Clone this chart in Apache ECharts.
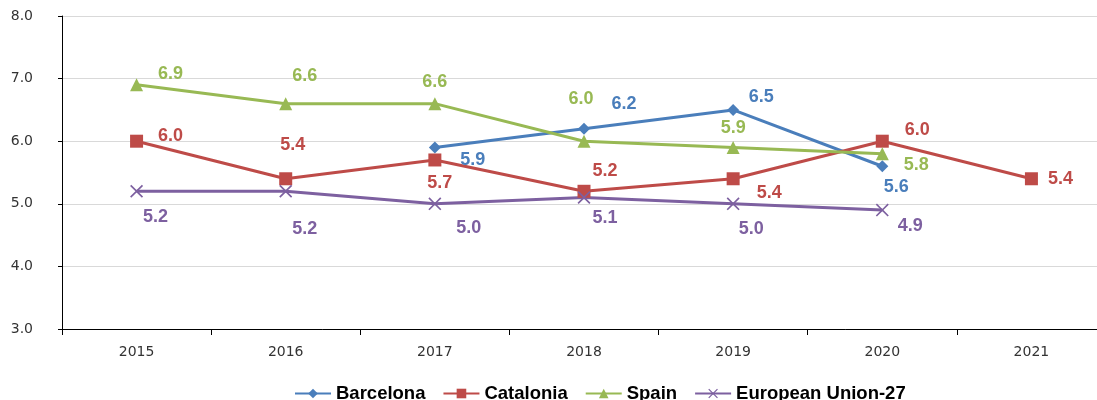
<!DOCTYPE html>
<html>
<head>
<meta charset="utf-8">
<script src="https://cdn.jsdelivr.net/npm/echarts@6/dist/echarts.min.js"></script>
<style>
html,body{margin:0;padding:0;background:#fff;overflow:hidden;width:1097px;height:400px;}
#chart{width:1110px;height:400px;}
</style>
</head>
<body>
<div id="chart"></div>
<script>
var categories = ['2015','2016','2017','2018','2019','2020','2021'];
var barcelona = [null, null, 5.9, 6.2, 6.5, 5.6, null];
var catalonia = [6.0, 5.4, 5.7, 5.2, 5.4, 6.0, 5.4];
var spain = [6.9, 6.6, 6.6, 6.0, 5.9, 5.8, null];
var eu27 = [5.2, 5.2, 5.0, 5.1, 5.0, 4.9, null];
var yTicks = [3, 4, 5, 6, 7, 8];

// label offsets (style only)
var offBarcelona = [null, null, [38,13], [40,-25], [28,-13], [14,21], null];
var offCatalonia = [[34,-5], [7,-34], [5,23], [21,-20], [36,14], [35,-11], [29,0]];
var offSpain = [[34,-11], [19,-28], [0,-22], [-3,-42], [0,-19], [34,11], null];
var offEu = [[19,26], [19,38], [34,24], [21,20], [18,25], [28,16], null];

var colors = {b:'#4A7EBB', c:'#BE4B48', s:'#98B954', e:'#7D60A0'};
var xPath = 'path://M0,0.9L0.9,0L5,4.1L9.1,0L10,0.9L5.9,5L10,9.1L9.1,10L5,5.9L0.9,10L0,9.1L4.1,5Z';
var FONT = 'Liberation Sans, Arial, sans-serif';
var AXFONT = 'DejaVu Sans, sans-serif';

function mk(vals, offs, color) {
  return vals.map(function(v, i){
    if (v === null) return null;
    return {value: v, label: {show: true, position: 'inside', offset: offs[i], color: color,
      fontWeight: 'bold', fontSize: 18, fontFamily: FONT,
      formatter: function(p){ return p.value.toFixed(1); }}};
  });
}

function series(name, vals, offs, color, symbol, size) {
  return {
    name: name, type: 'line', data: mk(vals, offs, color),
    symbol: symbol, symbolSize: size, showAllSymbol: true,
    connectNulls: false,
    lineStyle: {color: color, width: 3},
    itemStyle: {color: color},
    emphasis: {disabled: true},
    animation: false
  };
}

var chart = echarts.init(document.getElementById('chart'), null, {renderer: 'canvas'});
chart.setOption({
  animation: false,
  grid: {left: 62, top: 16, width: 1044, height: 313},
  legend: {
    top: 384, left: 294, padding: 0, itemWidth: 36, itemHeight: 12, itemGap: 17,
    textStyle: {color: '#000', fontWeight: 'bold', fontSize: 18.5, fontFamily: FONT},
    data: ['Barcelona', 'Catalonia', 'Spain', 'European Union-27']
  },
  xAxis: {
    type: 'category', data: categories, boundaryGap: true,
    axisLine: {lineStyle: {color: '#000', width: 1}},
    axisTick: {show: true, length: 6, lineStyle: {color: '#000'}},
    axisLabel: {color: '#333', fontSize: 14, margin: 16, fontFamily: AXFONT}
  },
  yAxis: {
    type: 'value', min: yTicks[0], max: yTicks[yTicks.length-1], interval: 1,
    axisLine: {show: true, lineStyle: {color: '#000', width: 1}},
    axisTick: {show: true, length: 4, lineStyle: {color: '#000'}},
    splitLine: {lineStyle: {color: '#d9d9d9', width: 1}},
    axisLabel: {color: '#333', fontSize: 14, margin: 29, fontFamily: AXFONT,
      formatter: function(v){ return v.toFixed(1); }}
  },
  series: [
    series('Barcelona', barcelona, offBarcelona, colors.b, 'diamond', 12),
    series('Catalonia', catalonia, offCatalonia, colors.c, 'rect', 13),
    series('Spain', spain, offSpain, colors.s, 'triangle', 13),
    series('European Union-27', eu27, offEu, colors.e, xPath, 13)
  ]
});
</script>
</body>
</html>
